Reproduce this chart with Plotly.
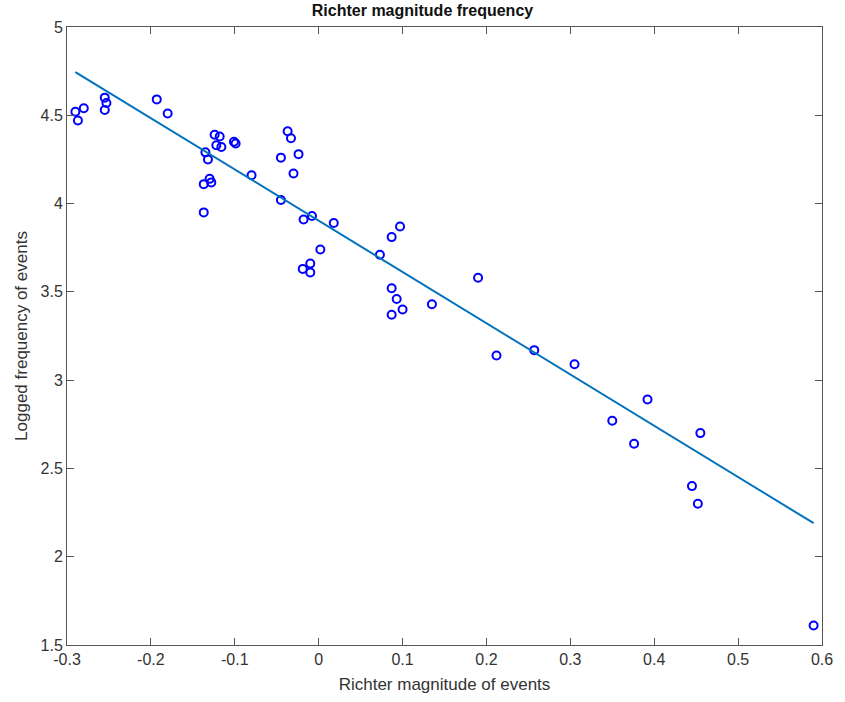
import plotly.graph_objects as go

mag = [-0.29, -0.287, -0.28, -0.255, -0.253, -0.255, -0.193, -0.18,
       -0.135, -0.132, -0.13, -0.128, -0.137, -0.137,
       -0.124, -0.118, -0.122, -0.116, -0.101, -0.099, -0.08,
       -0.037, -0.033, -0.045, -0.024, -0.03, -0.045,
       -0.018, -0.008, 0.018, 0.002, -0.019, -0.01, -0.01,
       0.073, 0.087, 0.097, 0.087, 0.093, 0.1, 0.087,
       0.135, 0.19, 0.212, 0.257, 0.305, 0.35, 0.376, 0.392,
       0.455, 0.445, 0.452, 0.59]
logfreq = [4.52, 4.47, 4.54, 4.60, 4.57, 4.53, 4.59, 4.51,
           4.29, 4.25, 4.14, 4.12, 4.11, 3.95,
           4.39, 4.38, 4.33, 4.32, 4.35, 4.34, 4.16,
           4.41, 4.37, 4.26, 4.28, 4.17, 4.02,
           3.91, 3.93, 3.89, 3.74, 3.63, 3.66, 3.61,
           3.71, 3.81, 3.87, 3.52, 3.46, 3.40, 3.37,
           3.43, 3.58, 3.14, 3.17, 3.09, 2.77, 2.64, 2.89,
           2.70, 2.40, 2.30, 1.61]

fit_x = [-0.29, 0.59]
fit_y = [4.745, 2.19]

x_ticks = [-0.3, -0.2, -0.1, 0, 0.1, 0.2, 0.3, 0.4, 0.5, 0.6]
x_labels = ["-0.3", "-0.2", "-0.1", "0", "0.1", "0.2", "0.3", "0.4", "0.5", "0.6"]
y_ticks = [1.5, 2, 2.5, 3, 3.5, 4, 4.5, 5]
y_labels = ["1.5", "2", "2.5", "3", "3.5", "4", "4.5", "5"]

fig = go.Figure()
fig.add_trace(go.Scatter(
    x=mag, y=logfreq, mode="markers",
    marker=dict(symbol="circle-open", size=8, color="#0000ff",
                line=dict(width=2, color="#0000ff")),
    showlegend=False))
fig.add_trace(go.Scatter(
    x=fit_x, y=fit_y, mode="lines",
    line=dict(color="#0072BD", width=2), showlegend=False))

axis_common = dict(
    showgrid=False, zeroline=False, showline=True, linecolor="#555555",
    linewidth=1, mirror="ticks", ticks="inside", ticklen=7,
    tickcolor="#555555", tickfont=dict(size=16, color="#333333"),
)
fig.update_xaxes(range=[-0.3, 0.6], tickvals=x_ticks, ticktext=x_labels,
                 title=dict(text="Richter magnitude of events",
                            font=dict(size=17, color="#333333"), standoff=10),
                 **axis_common)
fig.update_yaxes(range=[1.5, 5], tickvals=y_ticks, ticktext=y_labels,
                 title=dict(text="Logged frequency of events",
                            font=dict(size=17, color="#333333"), standoff=8),
                 **axis_common)

fig.update_layout(
    width=845, height=702,
    margin=dict(l=67, r=22, t=27, b=55),
    paper_bgcolor="white", plot_bgcolor="white",
    font=dict(family="Liberation Sans, Arial, sans-serif"),
    title=dict(text="<b>Richter magnitude frequency</b>", x=0.5,
               xanchor="center", y=0.985, yanchor="middle",
               font=dict(size=16, color="#111111")),
)

fig.write_html("out.html")
